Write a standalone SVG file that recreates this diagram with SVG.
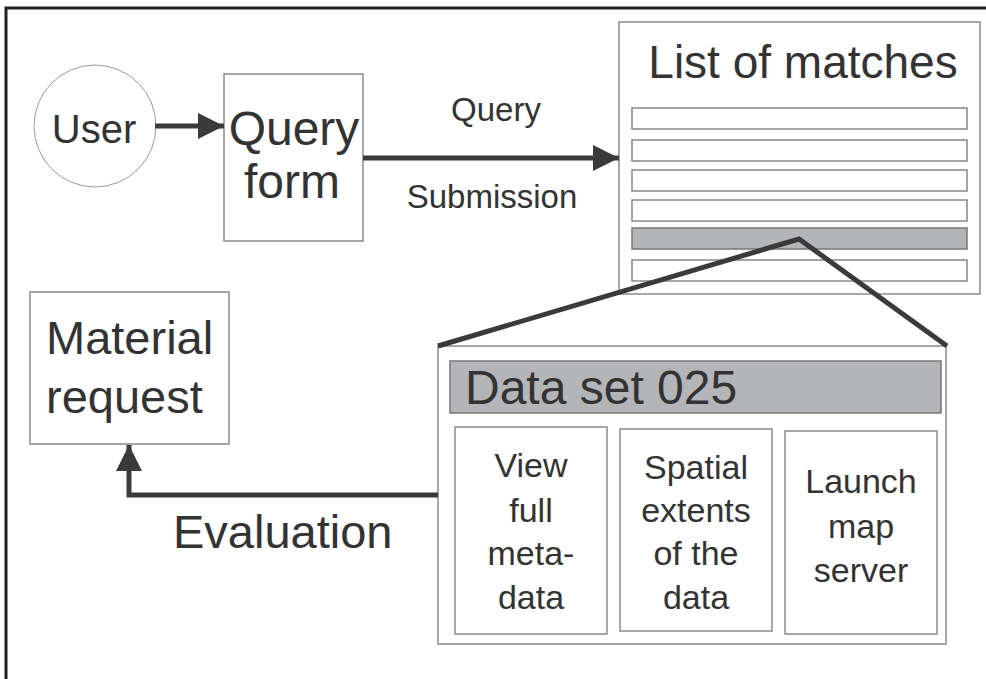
<svg xmlns="http://www.w3.org/2000/svg" width="986" height="679" viewBox="0 0 986 679">
<defs>
<style>
text{font-family:"Liberation Sans",Arial,sans-serif;fill:#333;}
.box{fill:#fff;stroke:#8a8a8a;stroke-width:1.5;}
.row{fill:#fff;stroke:#888;stroke-width:1.5;}
.sel{fill:#b4b5b8;stroke:#777;stroke-width:1.5;}
.conn{fill:none;stroke:#3a3a3a;stroke-width:5;}
.mid{text-anchor:middle;}
</style>
<marker id="ah" markerWidth="26" markerHeight="26" viewBox="0 0 26 26" refX="26" refY="13" orient="auto" markerUnits="userSpaceOnUse">
<path d="M0,0 L26,13 L0,26 Z" fill="#3a3a3a"/>
</marker>
</defs>
<rect width="986" height="679" fill="#fff"/>
<path d="M6,679 V8 H986" fill="none" stroke="#222" stroke-width="3"/>

<g id="user">
<circle cx="95" cy="126" r="61" fill="#fff" stroke="#999" stroke-width="1"/>
<text x="94" y="143" class="mid" font-size="40">User</text>
</g>

<g id="query-form">
<rect class="box" x="224" y="74" width="139" height="167"/>
<text x="294" y="145" class="mid" font-size="48">Query</text>
<text x="292" y="198" class="mid" font-size="48">form</text>
</g>

<g id="list-of-matches">
<rect class="box" x="619" y="22" width="361" height="272"/>
<text x="803" y="78" class="mid" font-size="46">List of matches</text>
<rect class="row" x="632" y="108" width="335" height="21"/>
<rect class="row" x="632" y="140" width="335" height="21"/>
<rect class="row" x="632" y="170" width="335" height="21"/>
<rect class="row" x="632" y="200" width="335" height="21"/>
<rect class="sel" x="632" y="228" width="335" height="21"/>
<rect class="row" x="632" y="260" width="335" height="21"/>
</g>

<g id="material-request">
<rect class="box" x="30" y="292" width="199" height="152"/>
<text x="46" y="354" font-size="47">Material</text>
<text x="46" y="413" font-size="47">request</text>
</g>

<g id="data-set">
<rect class="box" x="438" y="346" width="508" height="298"/>
<rect class="sel" x="450" y="361" width="491" height="52"/>
<text x="465" y="404" font-size="48">Data set 025</text>
</g>

<g id="view-metadata">
<rect class="box" x="455" y="427" width="152" height="207"/>
<text class="mid" x="531" y="477" font-size="34">View</text>
<text class="mid" x="531" y="522" font-size="34">full</text>
<text class="mid" x="531" y="565" font-size="34">meta-</text>
<text class="mid" x="531" y="609" font-size="34">data</text>
</g>

<g id="spatial-extents">
<rect class="box" x="620" y="429" width="152" height="202"/>
<text class="mid" x="696" y="479" font-size="34">Spatial</text>
<text class="mid" x="696" y="522" font-size="34">extents</text>
<text class="mid" x="696" y="565" font-size="34">of the</text>
<text class="mid" x="696" y="609" font-size="34">data</text>
</g>

<g id="launch-map-server">
<rect class="box" x="785" y="431" width="152" height="203"/>
<text class="mid" x="861" y="493" font-size="34">Launch</text>
<text class="mid" x="861" y="538" font-size="34">map</text>
<text class="mid" x="861" y="582" font-size="34">server</text>
</g>

<g id="connectors">
<line class="conn" x1="155" y1="126" x2="224" y2="126" marker-end="url(#ah)"/>
<line class="conn" x1="363" y1="158" x2="619" y2="158" marker-end="url(#ah)"/>
<path class="conn" d="M438,346 L799,239 L947,346" stroke-linejoin="miter"/>
<path class="conn" d="M438,495 H129 V445" marker-end="url(#ah)"/>
<text x="496" y="121" class="mid" font-size="33">Query</text>
<text x="492" y="208" class="mid" font-size="33">Submission</text>
<text x="173" y="548" font-size="47">Evaluation</text>
</g>
</svg>
